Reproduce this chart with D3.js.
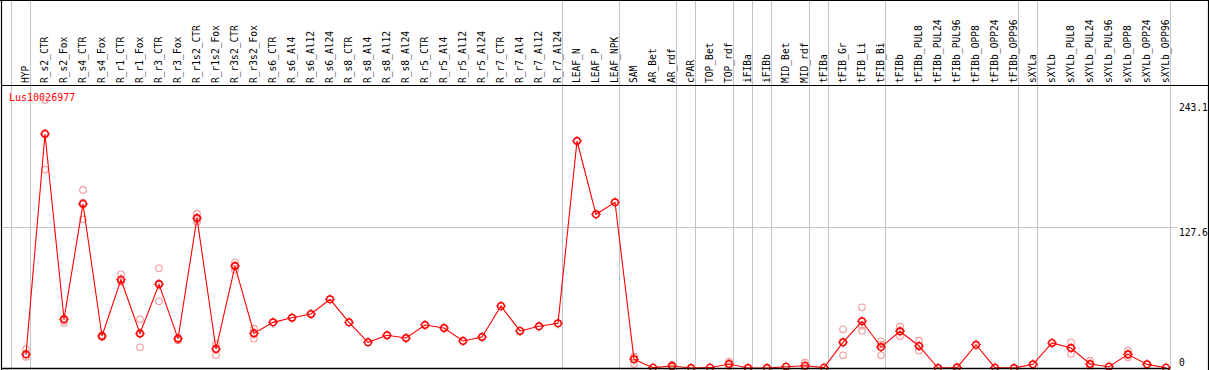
<!DOCTYPE html>
<html>
<head>
<meta charset="utf-8">
<script src="https://cdn.jsdelivr.net/npm/d3@7"></script>
<style>
  html, body { margin: 0; padding: 0; background: #fff; }
  svg { display: block; }
  text { font-family: "DejaVu Sans Mono", monospace; }
</style>
</head>
<body>
<div id="chart"></div>
<script>
// sample names, in plotted order
const categories = [
    "HYP",
    "R_s2_CTR", "R_s2_Fox", "R_s4_CTR", "R_s4_Fox", "R_r1_CTR", "R_r1_Fox", "R_r3_CTR", "R_r3_Fox",
    "R_r1s2_CTR", "R_r1s2_Fox", "R_r3s2_CTR", "R_r3s2_Fox",
    "R_s6_CTR", "R_s6_Al4", "R_s6_Al12", "R_s6_Al24", "R_s8_CTR", "R_s8_Al4", "R_s8_Al12", "R_s8_Al24",
    "R_r5_CTR", "R_r5_Al4", "R_r5_Al12", "R_r5_Al24", "R_r7_CTR", "R_r7_Al4", "R_r7_Al12", "R_r7_Al24",
    "LEAF_N", "LEAF_P", "LEAF_NPK",
    "SAM", "AR_Bet", "AR_rdf", "cPAR", "TOP_Bet", "TOP_rdf", "iFIBa", "iFIBb", "MID_Bet", "MID_rdf",
    "tFIBa", "tFIB_Gr", "tFIB_Li", "tFIB_Bi", "tFIBb",
    "tFIBb_PUL8", "tFIBb_PUL24", "tFIBb_PUL96", "tFIBb_OPP8", "tFIBb_OPP24", "tFIBb_OPP96",
    "sXYLa", "sXYLb",
    "sXYLb_PUL8", "sXYLb_PUL24", "sXYLb_PUL96", "sXYLb_OPP8", "sXYLb_OPP24", "sXYLb_OPP96"
];

// mean expression per sample
const means = [
    12.4,
    212.3, 44.4, 148.8, 29, 80.1, 31.4, 75.9, 26.6,
    136, 17.2, 92.5, 31.4,
    41.4, 45.6, 49, 62.3, 41.4, 23.3, 29.7, 27.2,
    39, 36.3, 24.5, 28.1, 56.2, 33.6, 37.8, 40.5,
    205.9, 139.4, 150.3,
    7.9, 0.3, 1.8, 0, 0.3, 3.6, 0, 0, 1.2, 2.1,
    0.3, 23.3, 42.4, 19, 33.3,
    20, 0, 0.3, 21.1, 0.3, 0,
    3.3, 22.7,
    18.1, 3.6, 1.2, 12.4, 3.3, 0.3
];

// individual replicates (faint circles)
const replicates = [
    [17, 10],
    [243.1, 180, 213], [43, 41], [161.5, 134.9, 150], [29.5, 28], [85, 78], [44.2, 18.8, 31], [90.4, 60.5, 76.8], [25, 27.5],
    [140, 132.7, 135], [21.8, 11.8, 18], [95.9, 88.9, 92.6], [35.7, 26.6, 32],
    [], [], [], [], [], [], [], [],
    [], [], [], [], [], [], [], [],
    [], [], [],
    [10.3, 3.6, 9.8], [], [2.8, 1], [], [], [5.7, 1.5], [], [], [], [4.8, 0.5],
    [], [35.1, 11.5, 23.3], [55, 33.9, 38.3], [24.2, 11.5, 21.3], [37.5, 29, 33.4],
    [24.8, 15.7, 19.5], [], [1], [], [], [],
    [], [],
    [23.3, 12.7, 18.3], [6.6, 1], [], [15.7, 9.7, 11.8], [], []
];

// a grey separator is drawn after each of these samples
const groupEnds = ["HYP", "R_r7_Al24", "LEAF_NPK", "AR_rdf", "cPAR", "TOP_rdf", "iFIBa", "iFIBb",
    "MID_rdf", "tFIBa", "tFIB_Bi", "tFIBb_OPP96", "sXYLa", "sXYLb_OPP96"];

const yTicks = [0, 127.6, 243.1];
const geneName = "Lus10026977";

const width = 1209, height = 370;
const headerH = 85;
const gridColor = "#c4c4c4";

const svg = d3.select("#chart").append("svg")
    .attr("width", width)
    .attr("height", height);

svg.append("rect").attr("width", width).attr("height", height).attr("fill", "#fff");

const x = d3.scalePoint().domain(categories).range([26, 1166]);
const step = x.step();
const y = d3.scaleLinear().domain([0, 243.1]).range([368, 100]);

// vertical separators
const sepX = [x(categories[0]) - step + 4.5].concat(groupEnds.map(c => x(c) + 4.5));
svg.append("g").selectAll("line").data(sepX).join("line")
    .attr("x1", d => d).attr("x2", d => d)
    .attr("y1", 0).attr("y2", height)
    .attr("stroke", gridColor).attr("stroke-width", 1);

// horizontal grid at middle tick
svg.append("line")
    .attr("x1", 1).attr("x2", 1177)
    .attr("y1", Math.round(y(127.6)) + 0.5).attr("y2", Math.round(y(127.6)) + 0.5)
    .attr("stroke", gridColor).attr("stroke-width", 1);

// header labels
svg.append("g").selectAll("text").data(categories).join("text")
    .attr("transform", d => `translate(${x(d) + 2.5},83) rotate(-90)`)
    .attr("font-size", "9.6px")
    .attr("fill", "#000")
    .text(d => d);

// header frame
svg.append("line").attr("x1", 1).attr("x2", width - 1).attr("y1", headerH + 0.5).attr("y2", headerH + 0.5)
    .attr("stroke", "#000").attr("stroke-width", 1.2);

// gene name
svg.append("text")
    .attr("x", 9).attr("y", 101)
    .attr("font-size", "10px")
    .attr("fill", "#f00")
    .text(geneName);

// right axis labels
svg.append("g").selectAll("text").data(yTicks).join("text")
    .attr("x", 1179)
    .attr("y", d => d === 0 ? y(d) - 2 : (d === 127.6 ? y(d) + 8.5 : y(d) + 11))
    .attr("font-size", "9.6px")
    .attr("fill", "#000")
    .text(d => d);

// replicate circles
const repPts = [];
replicates.forEach((reps, i) => reps.forEach(v => repPts.push({c: categories[i], v: v})));
svg.append("g").selectAll("circle").data(repPts).join("circle")
    .attr("cx", d => x(d.c)).attr("cy", d => y(d.v))
    .attr("r", 3.3)
    .attr("fill", "none")
    .attr("stroke", "#f29a9a")
    .attr("stroke-width", 1.1);

// mean line
const line = d3.line().x((d, i) => x(categories[i])).y(d => y(d));
svg.append("path").datum(means)
    .attr("d", line)
    .attr("fill", "none")
    .attr("stroke", "#f00")
    .attr("stroke-width", 1.1);

// mean markers: circle with four small ticks
const marks = svg.append("g").selectAll("g").data(means).join("g")
    .attr("transform", (d, i) => `translate(${x(categories[i])},${y(d)})`);
marks.append("circle")
    .attr("r", 3.3)
    .attr("fill", "none")
    .attr("stroke", "#f00")
    .attr("stroke-width", 1.4);
marks.append("path")
    .attr("d", "M0,-3.3V-5M0,3.3V5M-3.3,0H-5M3.3,0H5")
    .attr("stroke", "#f00")
    .attr("stroke-width", 1);

// bottom axis line and outer frame
svg.append("line").attr("x1", 1).attr("x2", 1170).attr("y1", 368.5).attr("y2", 368.5)
    .attr("stroke", "#000").attr("stroke-width", 1.5);
svg.append("line").attr("x1", 0).attr("x2", width).attr("y1", 0.5).attr("y2", 0.5)
    .attr("stroke", "#000").attr("stroke-width", 1.2);
svg.append("line").attr("x1", 1.5).attr("x2", 1.5).attr("y1", 0).attr("y2", height)
    .attr("stroke", "#000").attr("stroke-width", 1.2);
svg.append("line").attr("x1", width - 0.5).attr("x2", width - 0.5).attr("y1", 0).attr("y2", height)
    .attr("stroke", "#000").attr("stroke-width", 1.2);
</script>
</body>
</html>
